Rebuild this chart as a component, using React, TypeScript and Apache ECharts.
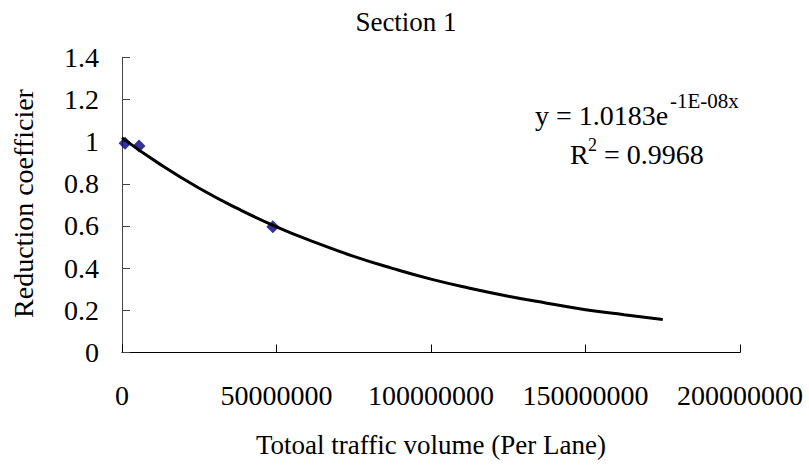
import React, { useEffect, useRef } from "react";
import * as echarts from "echarts";

// Observed points: total traffic volume per lane vs. reduction coefficient
const observedVolumes = [1.0e6, 5.5e6, 48.8e6];
const observedCoefficients = [0.992, 0.979, 0.596];

// Exponential trendline sampled along the volume range
const trendVolumes = [
  0, 12.5e6, 25e6, 37.5e6, 50e6, 62.5e6, 75e6, 87.5e6, 100e6, 112.5e6, 125e6,
  137.5e6, 150e6, 162.5e6, 175e6,
];
const trendCoefficients = [
  1.018, 0.891, 0.779, 0.682, 0.596, 0.522, 0.456, 0.399, 0.348, 0.305, 0.267,
  0.234, 0.203, 0.179, 0.157,
];

const xTicks = [0, 50000000, 100000000, 150000000, 200000000];
const yTicks = [0, 0.2, 0.4, 0.6, 0.8, 1, 1.2, 1.4];

const FONT = "Liberation Serif, Times New Roman, serif";

export default function App() {
  const ref = useRef<HTMLDivElement>(null);

  useEffect(() => {
    if (!ref.current) return;
    const chart = echarts.init(ref.current, undefined, { renderer: "svg" });

    const observed = observedVolumes.map((v, i) => [v, observedCoefficients[i]]);
    const trend = trendVolumes.map((v, i) => [v, trendCoefficients[i]]);

    const xStep = xTicks[1] - xTicks[0];
    const yStep = yTicks[1] - yTicks[0];

    const txt = (
      text: string,
      x: number,
      y: number,
      fontSize: number,
      align: string,
      rotation = 0
    ) => ({
      type: "text",
      x,
      y,
      rotation,
      style: {
        text,
        fontFamily: FONT,
        fontSize,
        fill: "#000",
        align,
        verticalAlign: "middle",
      },
    });

    chart.setOption({
      animation: false,
      backgroundColor: "#ffffff",
      textStyle: { fontFamily: FONT },
      grid: { left: 122, top: 57.3, width: 618, height: 295.2, containLabel: false },
      xAxis: {
        type: "value",
        min: xTicks[0],
        max: xTicks[xTicks.length - 1],
        interval: xStep,
        axisLine: { show: true, onZero: false, lineStyle: { color: "#000", width: 1 } },
        axisTick: { show: true, inside: true, length: 8, lineStyle: { color: "#000" } },
        splitLine: { show: false },
        axisLabel: {
          fontFamily: FONT,
          fontSize: 28,
          color: "#000",
          margin: 29,
          formatter: (v: number) => String(v),
        },
      },
      yAxis: {
        type: "value",
        min: yTicks[0],
        max: yTicks[yTicks.length - 1],
        interval: yStep,
        axisLine: { show: true, onZero: false, lineStyle: { color: "#444", width: 1 } },
        axisTick: { show: true, inside: true, length: 8, lineStyle: { color: "#444" } },
        splitLine: { show: false },
        axisLabel: {
          fontFamily: FONT,
          fontSize: 28,
          color: "#000",
          margin: 23,
        },
      },
      series: [
        {
          type: "scatter",
          data: observed,
          symbol: "diamond",
          symbolSize: 13,
          itemStyle: { color: "#000080" },
          z: 2,
        },
        {
          type: "line",
          data: trend,
          smooth: true,
          showSymbol: false,
          symbol: "none",
          lineStyle: { color: "#000", width: 3 },
          z: 3,
        },
      ],
      graphic: [
        txt("Section 1", 406, 21.6, 27, "center"),
        txt("Totoal traffic volume (Per Lane)", 431, 444.9, 27, "center"),
        txt("Reduction coefficier", 23.6, 203.5, 28, "center", Math.PI / 2),
        txt("y = 1.0183e", 535, 115.5, 28, "left"),
        txt("-1E-08x", 670, 101.2, 21, "left"),
        txt("R", 570, 154.5, 28, "left"),
        txt("2", 588, 145.4, 18, "left"),
        txt("= 0.9968", 604, 154.5, 28, "left"),
      ],
    });

    return () => chart.dispose();
  }, []);

  return (
    <div
      ref={ref}
      style={{ position: "fixed", left: 0, top: 0, width: 809, height: 472, background: "#fff" }}
    />
  );
}
